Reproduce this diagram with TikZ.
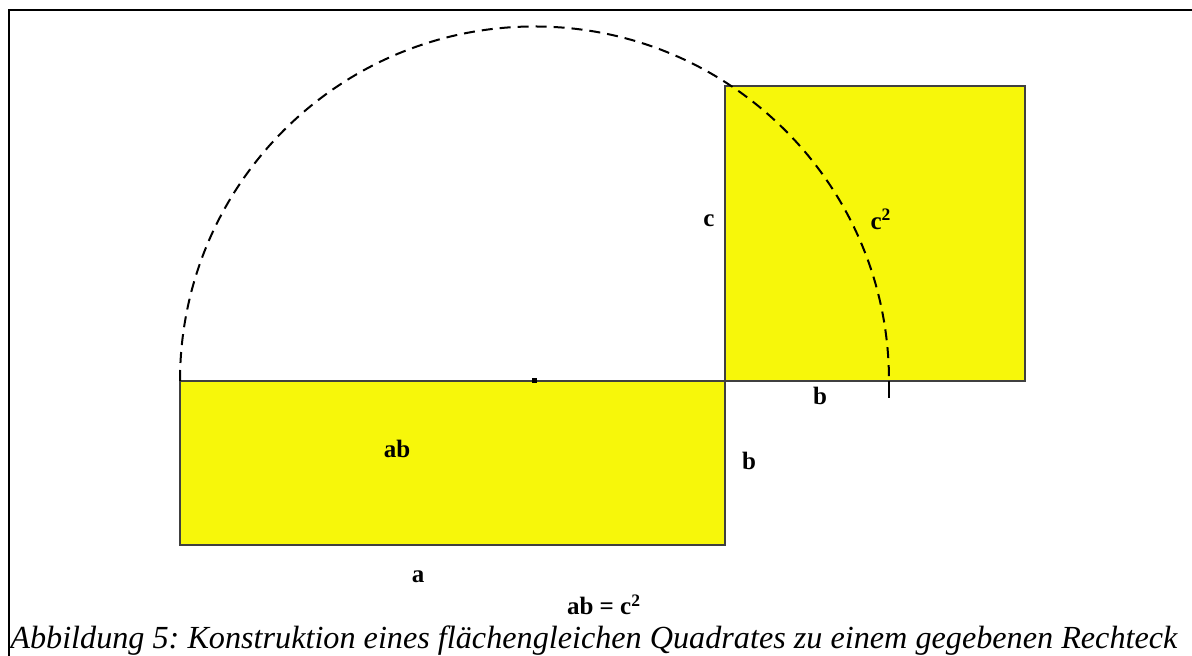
\documentclass[tikz,border=0pt]{standalone}
\usepackage{fontspec}
\setmainfont{Liberation Serif}
\usepackage{xcolor}
\definecolor{areaFill}{HTML}{F7F70A}
\definecolor{edgeGray}{HTML}{404040}
\frenchspacing

\begin{document}
\begin{tikzpicture}[x=0.5pt, y=0.5pt]
  \tikzset{
    lbl/.style={inner sep=0pt, font=\fontsize{12.5}{14}\selectfont\bfseries},
    arcline/.style={line width=1pt, dash pattern=on 5.5pt off 3.5pt}
  }
  \useasboundingbox (0,0) rectangle (1192,656);
  % frame
  \draw[line width=1.1pt] (9,0) -- (9,646) -- (1192,646);
  % rectangle a x b and square c x c
  \filldraw[fill=areaFill, draw=edgeGray, line width=0.6pt] (180,111) rectangle (725,275);
  \filldraw[fill=areaFill, draw=edgeGray, line width=0.6pt] (725,275) rectangle (1025,570);
  % Thales semicircle over a+b
  \coordinate (M) at (534.5,275);
  \coordinate (P) at (889,275);
  \draw[arcline] (180,275) arc (180:0:354.5);
  \draw[line width=0.8pt] (P) -- (889,258);
  \fill (532,272.5) rectangle (537,277.5);
  % labels
  \node[lbl] (lc) at (709,435) {c};
  \node[lbl] (lcsq) at (881,437) {c$^{\mathbf{2}}$};
  \node[lbl] (lbtop) at (820,260) {b};
  \node[lbl] (lbside) at (749,195) {b};
  \node[lbl] (lab) at (397,207) {ab};
  \node[lbl] (la) at (418,79) {a};
  \node[lbl, anchor=base] (leq) at (604,41) {ab = c$^{\mathbf{2}}$};
  \node[anchor=base west, inner sep=0pt, font=\fontsize{16.1}{18}\selectfont\itshape] (caption) at (10,7)
    {Abbildung 5: Konstruktion eines flächengleichen Quadrates zu einem gegebenen Rechteck};
\end{tikzpicture}
\end{document}
